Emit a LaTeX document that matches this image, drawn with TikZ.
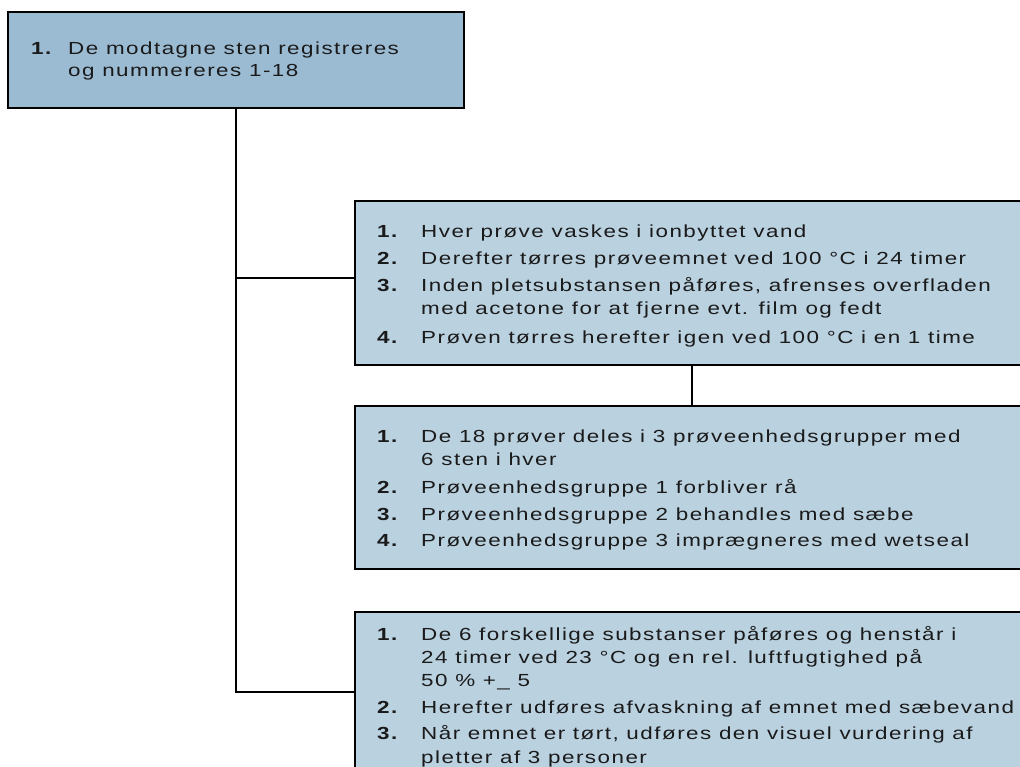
\documentclass[tikz,border=0pt]{standalone}
\usepackage{fontspec}
\setmainfont{Liberation Sans}[FakeStretch=1.28,LetterSpace=8.5]
\definecolor{boxdark}{HTML}{9BBBD3}
\definecolor{boxlight}{HTML}{BAD1E0}
\definecolor{ink}{HTML}{1A1A1A}
\begin{document}
\begin{tikzpicture}[x=1pt,y=-1pt,
  frame/.style={draw=black,line width=1.6pt,rectangle,inner sep=0pt,anchor=north west},
  topbox/.style={frame,fill=boxdark},
  subbox/.style={frame,fill=boxlight},
  num/.style={anchor=base west,inner sep=0pt,text=ink,font=\fontsize{17.5}{20}\selectfont\bfseries},
  txt/.style={anchor=base west,inner sep=0pt,text=ink,font=\fontsize{17.5}{20}\selectfont},
  link/.style={draw=black,line width=1.6pt}]
\useasboundingbox (0,0) rectangle (1020,767);
\clip (0,0) rectangle (1020,767);
\fill[white] (0,0) rectangle (1020,767);

% boxes
\node[topbox,minimum width=456pt,minimum height=96pt] (b1) at (7,11) {};
\node[subbox,minimum width=700pt,minimum height=164pt] (b2) at (354,200) {};
\node[subbox,minimum width=700pt,minimum height=163pt] (b3) at (354,405) {};
\node[subbox,minimum width=700pt,minimum height=200pt] (b4) at (354,611) {};

% connectors
\coordinate (j2) at (354,278);
\coordinate (j4) at (354,692);
\coordinate (k) at (692,0);
\draw[link] (b1.south) |- (j4);
\draw[link] (b1.south |- j2) -- (j2);
\draw[link] (b2.south -| k) -- (b3.north -| k);

% box 1 text
\node[num] (a1n) at (31,55) {1.};
\node[txt] (a1t) at (68,55) {De modtagne sten registreres};
\node[txt] (a1c) at (68,77) {og nummereres 1-18};

% box 2 text
\node[num] (b2n1) at (377,238) {1.};
\node[txt] (b2t1) at (421,238) {Hver prøve vaskes i ionbyttet vand};
\node[num] (b2n2) at (377,265) {2.};
\node[txt] (b2t2) at (421,265) {Derefter tørres prøveemnet ved 100 °C i 24 timer};
\node[num] (b2n3) at (377,292) {3.};
\node[txt] (b2t3) at (421,292) {Inden pletsubstansen påføres, afrenses overfladen};
\node[txt] (b2c3) at (421,315) {med acetone for at fjerne evt. film og fedt};
\node[num] (b2n4) at (377,343) {4.};
\node[txt] (b2t4) at (421,343) {Prøven tørres herefter igen ved 100 °C i en 1 time};

% box 3 text
\node[num] (b3n1) at (377,442) {1.};
\node[txt] (b3t1) at (421,442) {De 18 prøver deles i 3 prøveenhedsgrupper med};
\node[txt] (b3c1) at (421,465) {6 sten i hver};
\node[num] (b3n2) at (377,493) {2.};
\node[txt] (b3t2) at (421,493) {Prøveenhedsgruppe 1 forbliver rå};
\node[num] (b3n3) at (377,520) {3.};
\node[txt] (b3t3) at (421,520) {Prøveenhedsgruppe 2 behandles med sæbe};
\node[num] (b3n4) at (377,546) {4.};
\node[txt] (b3t4) at (421,546) {Prøveenhedsgruppe 3 imprægneres med wetseal};

% box 4 text
\node[num] (b4n1) at (377,640) {1.};
\node[txt] (b4t1) at (421,640) {De 6 forskellige substanser påføres og henstår i};
\node[txt] (b4c1) at (421,663) {24 timer ved 23 °C og en rel. luftfugtighed på};
\node[txt] (b4d1) at (421,686) {50 \% +\_ 5};
\node[num] (b4n2) at (377,713) {2.};
\node[txt] (b4t2) at (421,713) {Herefter udføres afvaskning af emnet med sæbevand};
\node[num] (b4n3) at (377,739) {3.};
\node[txt] (b4t3) at (421,739) {Når emnet er tørt, udføres den visuel vurdering af};
\node[txt] (b4c3) at (421,763) {pletter af 3 personer};
\end{tikzpicture}
\end{document}
